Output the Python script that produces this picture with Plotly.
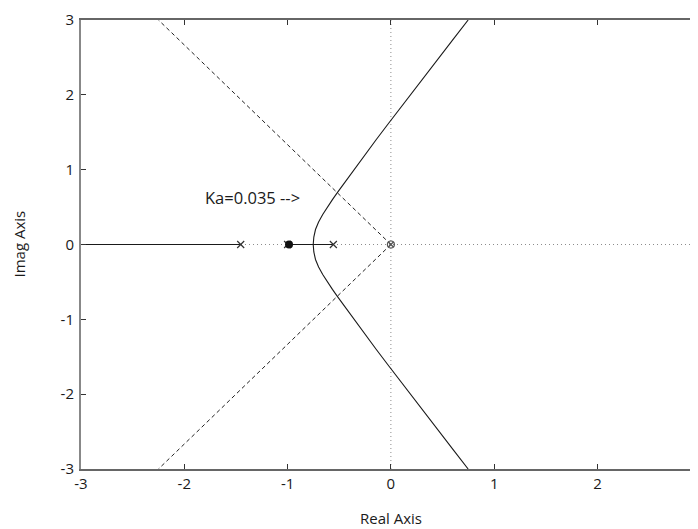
import plotly.graph_objects as go

# ---- data ----
upper_y = [0.00, 0.10, 0.20, 0.30, 0.40, 0.50, 0.60, 0.70, 0.85, 1.00, 1.20, 1.40, 1.60, 1.80, 2.00, 2.25, 2.50, 2.75, 3.00]
upper_x = [-0.752, -0.746, -0.730, -0.700, -0.660, -0.615, -0.566, -0.515, -0.437, -0.359, -0.252, -0.143, -0.033, 0.077, 0.188, 0.328, 0.468, 0.608, 0.748]
lower_x = upper_x
lower_y = [-v for v in upper_y]

real_left_x = [-3.0, -1.454]
real_mid_x = [-0.986, -0.557]

damp_up_x = [0.0, -2.25]
damp_up_y = [0.0, 3.0]
damp_dn_x = [0.0, -2.25]
damp_dn_y = [0.0, -3.0]

pole_x = [-1.454, -1.0, -0.557]
pole_y = [0.0, 0.0, 0.0]
gain_pt_x = [-0.986]
gain_pt_y = [0.0]
origin_x = [0.0]
origin_y = [0.0]

xticks = [-3, -2, -1, 0, 1, 2]
xtick_text = ["-3", "-2", "-1", "0", "1", "2"]
yticks = [-3, -2, -1, 0, 1, 2, 3]
ytick_text = ["-3", "-2", "-1", "0", "1", "2", "3"]

FONT = "Open Sans"
TXT = "#1a1a1a"
fig = go.Figure()

# dotted axes
fig.add_trace(go.Scatter(x=[-3, 3], y=[0, 0], mode="lines",
                         line=dict(color="#8c8c8c", width=1, dash="1px,3px"), hoverinfo="skip"))
fig.add_trace(go.Scatter(x=[0, 0], y=[-3, 3], mode="lines",
                         line=dict(color="#8c8c8c", width=1, dash="1px,3px"), hoverinfo="skip"))
# damping lines
fig.add_trace(go.Scatter(x=damp_up_x, y=damp_up_y, mode="lines",
                         line=dict(color="#222", width=1, dash="4px,3px")))
fig.add_trace(go.Scatter(x=damp_dn_x, y=damp_dn_y, mode="lines",
                         line=dict(color="#222", width=1, dash="4px,3px")))
# locus branches
fig.add_trace(go.Scatter(x=upper_x, y=upper_y, mode="lines", line=dict(color="#1a1a1a", width=1.1)))
fig.add_trace(go.Scatter(x=lower_x, y=lower_y, mode="lines", line=dict(color="#1a1a1a", width=1.1)))
fig.add_trace(go.Scatter(x=real_left_x, y=[0, 0], mode="lines", line=dict(color="#1a1a1a", width=1.1)))
fig.add_trace(go.Scatter(x=real_mid_x, y=[0, 0], mode="lines", line=dict(color="#1a1a1a", width=1.1)))
# markers
fig.add_trace(go.Scatter(x=pole_x, y=pole_y, mode="markers",
                         marker=dict(symbol="x-thin-open", size=7, color="#333", line=dict(color="#333", width=1.2))))
fig.add_trace(go.Scatter(x=gain_pt_x, y=gain_pt_y, mode="markers",
                         marker=dict(symbol="circle", size=8, color="#111")))
fig.add_trace(go.Scatter(x=origin_x, y=origin_y, mode="markers",
                         marker=dict(symbol="circle-x-open", size=7, color="#555", line=dict(color="#555", width=1.2))))

# the page places the figure 8px from the top-left corner of the window
fig.update_layout(
    width=690, height=521, showlegend=False,
    margin=dict(l=73, r=0, t=12, b=60, autoexpand=False),
    plot_bgcolor="white", paper_bgcolor="white",
    font=dict(family=FONT, size=15, color=TXT),
)
fig.update_xaxes(range=[-3, 2.973], tickvals=xticks, ticktext=xtick_text,
                 ticks="inside", ticklen=5, tickcolor="#333", showgrid=False, zeroline=False,
                 showline=True, linecolor="#666", linewidth=1.5, mirror="ticks",
                 tickfont=dict(size=15, family=FONT, color=TXT), ticklabelstandoff=0)
fig.update_yaxes(range=[-3, 3], tickvals=yticks, ticktext=ytick_text,
                 ticks="inside", ticklen=5, tickcolor="#333", showgrid=False, zeroline=False,
                 showline=True, linecolor="#888", linewidth=2, mirror="ticks",
                 tickfont=dict(size=15, family=FONT, color=TXT), ticklabelstandoff=2)

fig.add_annotation(x=-1.82, y=0.627, xref="x", yref="y", text="Ka=0.035 -->", showarrow=False,
                   xanchor="left", yanchor="middle", font=dict(size=16.5, family=FONT, color=TXT))
fig.add_annotation(x=(701 - 81) / 617, y=0, xref="paper", yref="paper", text="3", showarrow=False,
                   xanchor="center", yanchor="top", yshift=-5, font=dict(size=15, family=FONT, color=TXT))
fig.add_annotation(x=(391 - 81) / 617, y=-(518 - 469) / 449, xref="paper", yref="paper", text="Real Axis",
                   showarrow=False, xanchor="center", yanchor="middle", font=dict(size=15, family=FONT, color=TXT))
fig.add_annotation(x=-(81 - 18) / 617, y=0.5, xref="paper", yref="paper", text="Imag Axis", textangle=-90,
                   showarrow=False, xanchor="center", yanchor="middle", font=dict(size=15, family=FONT, color=TXT))

fig.write_html("out.html")
